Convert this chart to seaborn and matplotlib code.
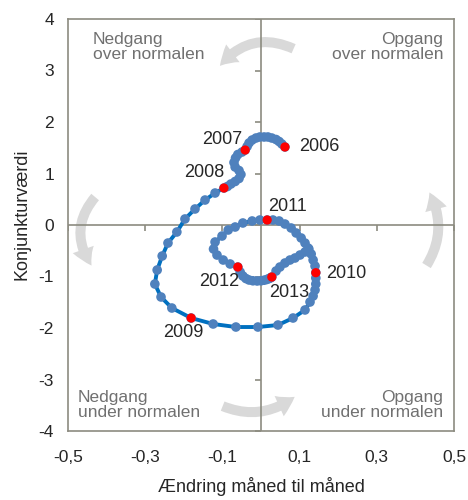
import numpy as np
import pandas as pd
import seaborn as sns
import matplotlib.pyplot as plt
from matplotlib.patches import FancyArrowPatch, ArrowStyle

# monthly values, starting January 2006
change = [0.062, 0.054, 0.047, 0.039, 0.028, 0.018, 0.008, -0.003, -0.013, -0.023, -0.031, -0.036,
          -0.041, -0.049, -0.060, -0.066, -0.070, -0.067, -0.057, -0.052, -0.057, -0.067, -0.078, -0.087,
          -0.096, -0.119, -0.145, -0.171, -0.197, -0.218, -0.241, -0.256, -0.269, -0.275, -0.259, -0.231,
          -0.181, -0.124, -0.065, -0.008, 0.044, 0.083, 0.114, 0.127, 0.135, 0.140, 0.142, 0.142,
          0.142, 0.140, 0.135, 0.130, 0.122, 0.114, 0.104, 0.091, 0.078, 0.062, 0.047, 0.031,
          0.016, -0.003, -0.023, -0.047, -0.067, -0.085, -0.101, -0.119, -0.123, -0.114, -0.098, -0.080,
          -0.060, -0.054, -0.047, -0.039, -0.031, -0.021, -0.010, 0.000, 0.008, 0.015, 0.021, 0.025,
          0.028, 0.039, 0.049, 0.062, 0.075, 0.088, 0.101, 0.114, 0.124]
level = [1.515, 1.573, 1.621, 1.660, 1.689, 1.709, 1.709, 1.709, 1.689, 1.650, 1.592, 1.524,
         1.456, 1.417, 1.369, 1.301, 1.214, 1.126, 1.058, 0.981, 0.903, 0.845, 0.796, 0.748,
         0.718, 0.621, 0.485, 0.311, 0.117, -0.136, -0.350, -0.602, -0.874, -1.146, -1.398, -1.612,
         -1.806, -1.922, -1.981, -1.981, -1.942, -1.806, -1.650, -1.495, -1.379, -1.262, -1.146, -1.029,
         -0.926, -0.796, -0.680, -0.563, -0.447, -0.350, -0.252, -0.155, -0.058, 0.019, 0.078, 0.097,
         0.097, 0.097, 0.078, 0.039, -0.039, -0.097, -0.214, -0.330, -0.466, -0.583, -0.680, -0.757,
         -0.816, -0.913, -0.990, -1.040, -1.068, -1.083, -1.087, -1.083, -1.072, -1.058, -1.040, -1.025,
         -1.010, -0.893, -0.816, -0.738, -0.680, -0.641, -0.583, -0.524, -0.466]
years = ['2006', '2007', '2008', '2009', '2010', '2011', '2012', '2013']
x_ticks = [-0.5, -0.3, -0.1, 0.1, 0.3, 0.5]
y_ticks = [-4, -3, -2, -1, 0, 1, 2, 3, 4]

df = pd.DataFrame({'change': change, 'level': level})
red = df.iloc[[12 * i for i in range(len(years))]].copy()
red['year'] = years

sns.set_style('white')
plt.rcParams['font.family'] = ['Liberation Sans', 'DejaVu Sans']

fig = plt.figure(figsize=(4.68, 5.0), dpi=100)
ax = fig.add_axes([68 / 468, 1 - 431 / 500, 386 / 468, 412 / 500])

grey = '#8c8b80'
ax.axhline(0, color=grey, lw=1.2, zorder=1)
ax.axvline(0, color=grey, lw=1.2, zorder=1)
# small tick marks on the zero lines
ax.plot(x_ticks, [0] * len(x_ticks), ls='none', marker=3, ms=4, mew=1.2, color=grey, zorder=1)
ax.plot([0] * len(y_ticks), y_ticks, ls='none', marker=0, ms=4, mew=1.2, color=grey, zorder=1)

sns.lineplot(data=df, x='change', y='level', sort=False, estimator=None,
             color='#0070c0', lw=2.8, ax=ax, zorder=2)
sns.scatterplot(data=df, x='change', y='level', color='#4f81bd', s=48,
                edgecolor='none', ax=ax, zorder=3)
sns.scatterplot(data=red, x='change', y='level', color='#ff0000', s=44,
                edgecolor='none', ax=ax, zorder=4)

offsets = {'2006': (34, 0), '2007': (-23, 11), '2008': (-20, 16), '2009': (-8, -14),
           '2010': (30, -1), '2011': (20, 14), '2012': (-19, -14), '2013': (17, -15)}
for _, r in red.iterrows():
    ax.annotate(r['year'], (r['change'], r['level']), xytext=offsets[r['year']],
                textcoords='offset pixels', ha='center', va='center', fontsize=13, zorder=5)

ax.set_xlim(-0.5, 0.5)
ax.set_ylim(-4, 4)
ax.set_xticks(x_ticks)
ax.set_xticklabels([f'{t:.1f}'.replace('.', ',') for t in x_ticks])
ax.set_yticks(y_ticks)
ax.set_yticklabels([str(t) for t in y_ticks])
ax.tick_params(length=0, labelsize=12.5)
ax.tick_params(axis='x', pad=14)
ax.tick_params(axis='y', pad=10)
for s in ax.spines.values():
    s.set_visible(True)
    s.set_color(grey)
    s.set_linewidth(1.2)
ax.set_xlabel('Ændring måned til måned', fontsize=13, labelpad=8)
ax.set_ylabel('Konjunkturværdi', fontsize=13)
ax.yaxis.set_label_coords(-0.098, 0.525)

txt = dict(transform=ax.transAxes, fontsize=12.5, color='#707070', linespacing=1.0)
ax.text(0.065, 0.968, 'Nedgang\nover normalen', ha='left', va='top', **txt)
ax.text(0.972, 0.968, 'Opgang\nover normalen', ha='right', va='top', **txt)
ax.text(0.026, 0.027, 'Nedgang\nunder normalen', ha='left', va='bottom', **txt)
ax.text(0.972, 0.027, 'Opgang\nunder normalen', ha='right', va='bottom', **txt)

style = ArrowStyle.Simple(head_length=0.65, head_width=0.8, tail_width=0.36)
arrows = [((0.591, 0.925), (0.389, 0.881), 0.4),
          ((0.075, 0.573), (0.065, 0.396), 0.4),
          ((0.394, 0.063), (0.593, 0.087), 0.3),
          ((0.925, 0.396), (0.933, 0.585), 0.3)]
for a, b, rad in arrows:
    ax.add_patch(FancyArrowPatch(a, b, transform=ax.transAxes, arrowstyle=style,
                                 mutation_scale=20, connectionstyle=f'arc3,rad={rad}',
                                 color='#d9d9d9', lw=0, zorder=0))

plt.savefig('out.png', dpi=100)
